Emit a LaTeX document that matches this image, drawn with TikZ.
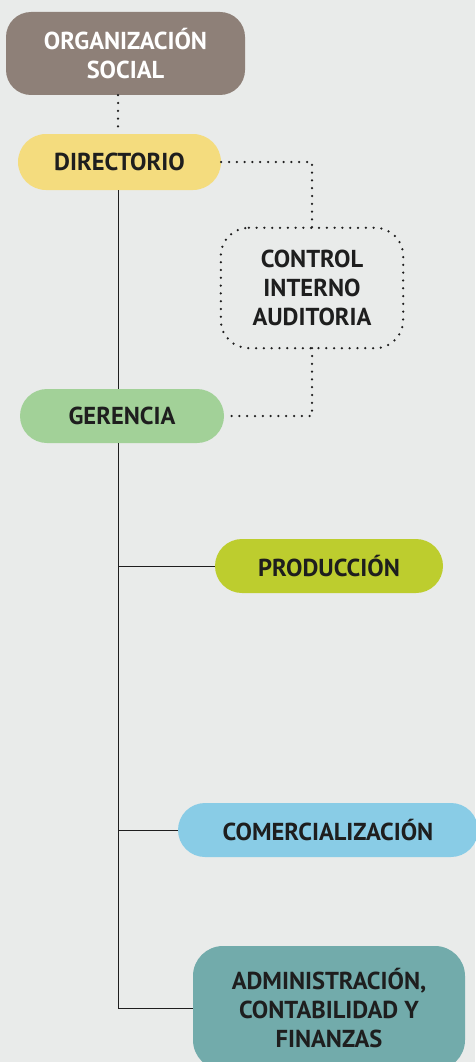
\documentclass[tikz,border=0pt]{standalone}
\usepackage{fontspec}
\setmainfont{PT Sans}
\definecolor{bg}{HTML}{E9EBEA}
\definecolor{orgc}{HTML}{8E8078}
\definecolor{dirc}{HTML}{F4DC7E}
\definecolor{gerc}{HTML}{A2D198}
\definecolor{prodc}{HTML}{BDCD2E}
\definecolor{comc}{HTML}{89CCE6}
\definecolor{admc}{HTML}{72ABAB}
\definecolor{txt}{HTML}{1E1E1E}
\tikzset{
  box/.style={rectangle, rounded corners=#1, inner sep=0pt, align=center,
    font=\fontsize{24.5}{29}\selectfont\bfseries, text=txt},
  box/.default=27pt,
  dotline/.style={line width=2.5pt, dash pattern=on 0pt off 7.8pt, line cap=round, color=txt},
  solid line/.style={line width=1pt, color=txt}
}
\begin{document}
\begin{tikzpicture}[x=1pt,y=-1pt]
\fill[bg] (0,0) rectangle (475,1062);
\useasboundingbox (0,0) rectangle (475,1062);
\coordinate (sp) at (118,0);
\node[box=25pt, fill=orgc, text=white, minimum width=239pt, minimum height=83pt] (org) at (125.5,53.5) {ORGANIZACIÓN\\SOCIAL};
\node[box=28pt, fill=dirc, minimum width=203pt, minimum height=56pt] (dir) at (119.5,162) {DIRECTORIO};
\node[box=28pt, minimum width=182pt, minimum height=120pt] (ctrl) at (312,288) {CONTROL\\INTERNO\\AUDITORIA};
\node[box, fill=gerc, minimum width=204pt, minimum height=54pt] (ger) at (122,416) {GERENCIA};
\node[box, fill=prodc, minimum width=228pt, minimum height=54pt] (prod) at (329,566) {PRODUCCIÓN};
\node[box, fill=comc, minimum width=300pt, minimum height=54pt] (com) at (328,830) {COMERCIALIZACIÓN};
\node[box=30pt, fill=admc, minimum width=272pt, minimum height=124pt] (adm) at (329,1008) {ADMINISTRACIÓN,\\CONTABILIDAD Y\\FINANZAS};
% frame of control box
\draw[dotline] (ctrl.north west) ++(28,0) -- ([xshift=-28pt]ctrl.north east) arc[start angle=90,end angle=0,radius=28pt]
  -- ([yshift=28pt]ctrl.south east) arc[start angle=0,end angle=-90,radius=28pt]
  -- ([xshift=28pt]ctrl.south west) arc[start angle=270,end angle=180,radius=28pt]
  -- ([yshift=-28pt]ctrl.north west) arc[start angle=180,end angle=90,radius=28pt];
% connectors
\draw[dotline] (org.south -| sp) -- (dir.north -| sp);
\draw[dotline] (dir.east) -| (ctrl.north);
\draw[dotline] (ctrl.south) |- (ger.east);
\draw[solid line] (dir.south -| sp) -- (ger.north -| sp);
\draw[solid line] (ger.south -| sp) -- (adm.west -| sp) -- (adm.west);
\draw[solid line] (prod.west -| sp) -- (prod.west);
\draw[solid line] (com.west -| sp) -- (com.west);
\end{tikzpicture}
\end{document}
